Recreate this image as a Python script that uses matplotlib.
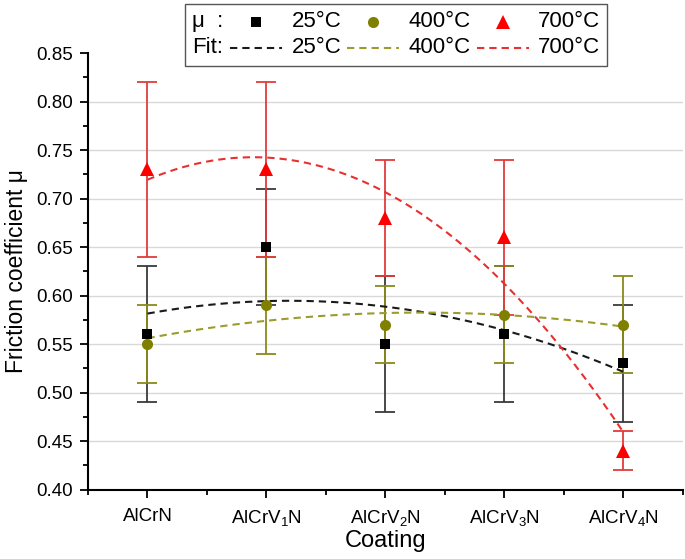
import numpy as np
import matplotlib
matplotlib.use('Agg')
import matplotlib.pyplot as plt
from matplotlib.lines import Line2D
from matplotlib.text import Text
from matplotlib.ticker import MultipleLocator, FormatStrFormatter
from matplotlib.offsetbox import (AnchoredOffsetbox, DrawingArea, HPacker,
                                  VPacker, TextArea)

plt.rcParams['font.family'] = ['Liberation Sans', 'DejaVu Sans']
plt.rcParams['mathtext.fontset'] = 'custom'
plt.rcParams['mathtext.rm'] = 'Liberation Sans'
plt.rcParams['mathtext.it'] = 'Liberation Sans:italic'
plt.rcParams['mathtext.bf'] = 'Liberation Sans:bold'
plt.rcParams['mathtext.default'] = 'regular'

# data
coatings = ['AlCrN', 'AlCrV$_1$N', 'AlCrV$_2$N', 'AlCrV$_3$N', 'AlCrV$_4$N']
temps = ['25°C', '400°C', '700°C']
mu_25 = [0.56, 0.65, 0.55, 0.56, 0.53]
err_25 = [0.07, 0.06, 0.07, 0.07, 0.06]
mu_400 = [0.55, 0.59, 0.57, 0.58, 0.57]
err_400 = [0.04, 0.05, 0.04, 0.05, 0.05]
mu_700 = [0.73, 0.73, 0.68, 0.66, 0.44]
err_700 = [0.09, 0.09, 0.06, 0.08, 0.02]

x = np.arange(len(coatings))

fig = plt.figure(figsize=(6.85, 5.59), dpi=100)
ax = fig.add_axes([0.1285, 0.1243, 0.868, 0.7807])

# (values, errors, marker, size, marker colour, errorbar colour, fit colour)
series = [
    (mu_25, err_25, 's', 7, 'black', '#3a3a3a', '#1a1a1a'),
    (mu_400, err_400, 'o', 8, '#808000', '#8a8a1a', '#9c9c2c'),
    (mu_700, err_700, '^', 10, '#ff0000', '#e03c3c', '#e83030'),
]

fit_style = dict(linestyle=(0, (3.5, 2.4)), linewidth=1.5)

for i, (mu, err, mk, ms, mc, ec, fc) in enumerate(series):
    ax.errorbar(x, mu, yerr=err, fmt='none', ecolor=ec, elinewidth=1.3,
                capsize=7, capthick=1.3, zorder=2 + i)
    ax.plot(x, mu, linestyle='none', marker=mk, markersize=ms,
            color=mc, markeredgewidth=0, zorder=6 + i)
    # 2nd order polynomial fit as in the original
    coef = np.polyfit(x, mu, 2)
    xs = np.linspace(x[0], x[-1], 200)
    ax.plot(xs, np.polyval(coef, xs), color=fc, zorder=5, **fit_style)

ax.set_xlim(-0.5, 4.5)
ax.set_ylim(0.40, 0.85)
ax.set_xticks(x)
ax.set_xticklabels(coatings)
ax.xaxis.set_minor_locator(MultipleLocator(0.5))
ax.yaxis.set_major_locator(MultipleLocator(0.05))
ax.yaxis.set_minor_locator(MultipleLocator(0.025))
ax.yaxis.set_major_formatter(FormatStrFormatter('%.2f'))

for yv in np.arange(0.45, 0.81, 0.05):
    ax.axhline(yv, color='#d9d9d9', linewidth=1.0, zorder=0)

ax.spines['top'].set_visible(False)
ax.spines['right'].set_visible(False)
for s in ['left', 'bottom']:
    ax.spines[s].set_linewidth(1.5)
ax.tick_params(which='major', direction='out', length=6, width=1.3,
               labelsize=13.5, pad=5)
ax.tick_params(which='minor', direction='out', length=3.5, width=1.3)
ax.tick_params(axis='x', which='major', pad=7)

ax.set_xlabel('Coating', fontsize=17, labelpad=2)
ax.set_ylabel('Friction coefficient μ', fontsize=16.5, labelpad=6)

# legend box: two rows, marker row and fit row
leg_fs = 16
hw, hh = 37.5, 14   # handle box in points


def row_label(s):
    da = DrawingArea(23, hh, 0, 0)
    da.add_artist(Text(0, hh / 2, s, fontsize=leg_fs, ha='left',
                       va='center'))
    return da


def marker_handle(mk, ms, mc):
    da = DrawingArea(hw, hh, 0, 0)
    da.add_artist(Line2D([hw / 2], [hh / 2], marker=mk, markersize=ms,
                         color=mc, markeredgewidth=0, linestyle='none'))
    return da


def fit_handle(fc):
    da = DrawingArea(hw, hh, 0, 0)
    da.add_artist(Line2D([0, hw], [hh / 2, hh / 2], color=fc, **fit_style))
    return da


row1 = [row_label('μ  :')]
row2 = [row_label('Fit:')]
for (mu, err, mk, ms, mc, ec, fc), t in zip(series, temps):
    row1.append(HPacker(children=[marker_handle(mk, ms, mc),
                                  TextArea(t, textprops=dict(fontsize=leg_fs))],
                        align='center', pad=0, sep=6.5))
    row2.append(HPacker(children=[fit_handle(fc),
                                  TextArea(t, textprops=dict(fontsize=leg_fs))],
                        align='center', pad=0, sep=6.5))

rows = VPacker(children=[HPacker(children=row1, align='center', pad=0, sep=4.4),
                         HPacker(children=row2, align='center', pad=0, sep=4.4)],
               align='left', pad=0, sep=3.5)
box = AnchoredOffsetbox(loc='upper left', child=rows, pad=0.33, borderpad=0,
                        frameon=True, prop=dict(size=leg_fs),
                        bbox_to_anchor=(185 / 685, 555 / 559),
                        bbox_transform=fig.transFigure)
box.patch.set_edgecolor('#555555')
box.patch.set_linewidth(1.0)
box.patch.set_boxstyle('square', pad=0)
box.set_zorder(20)
ax.add_artist(box)

fig.savefig('out.png', dpi=100)
